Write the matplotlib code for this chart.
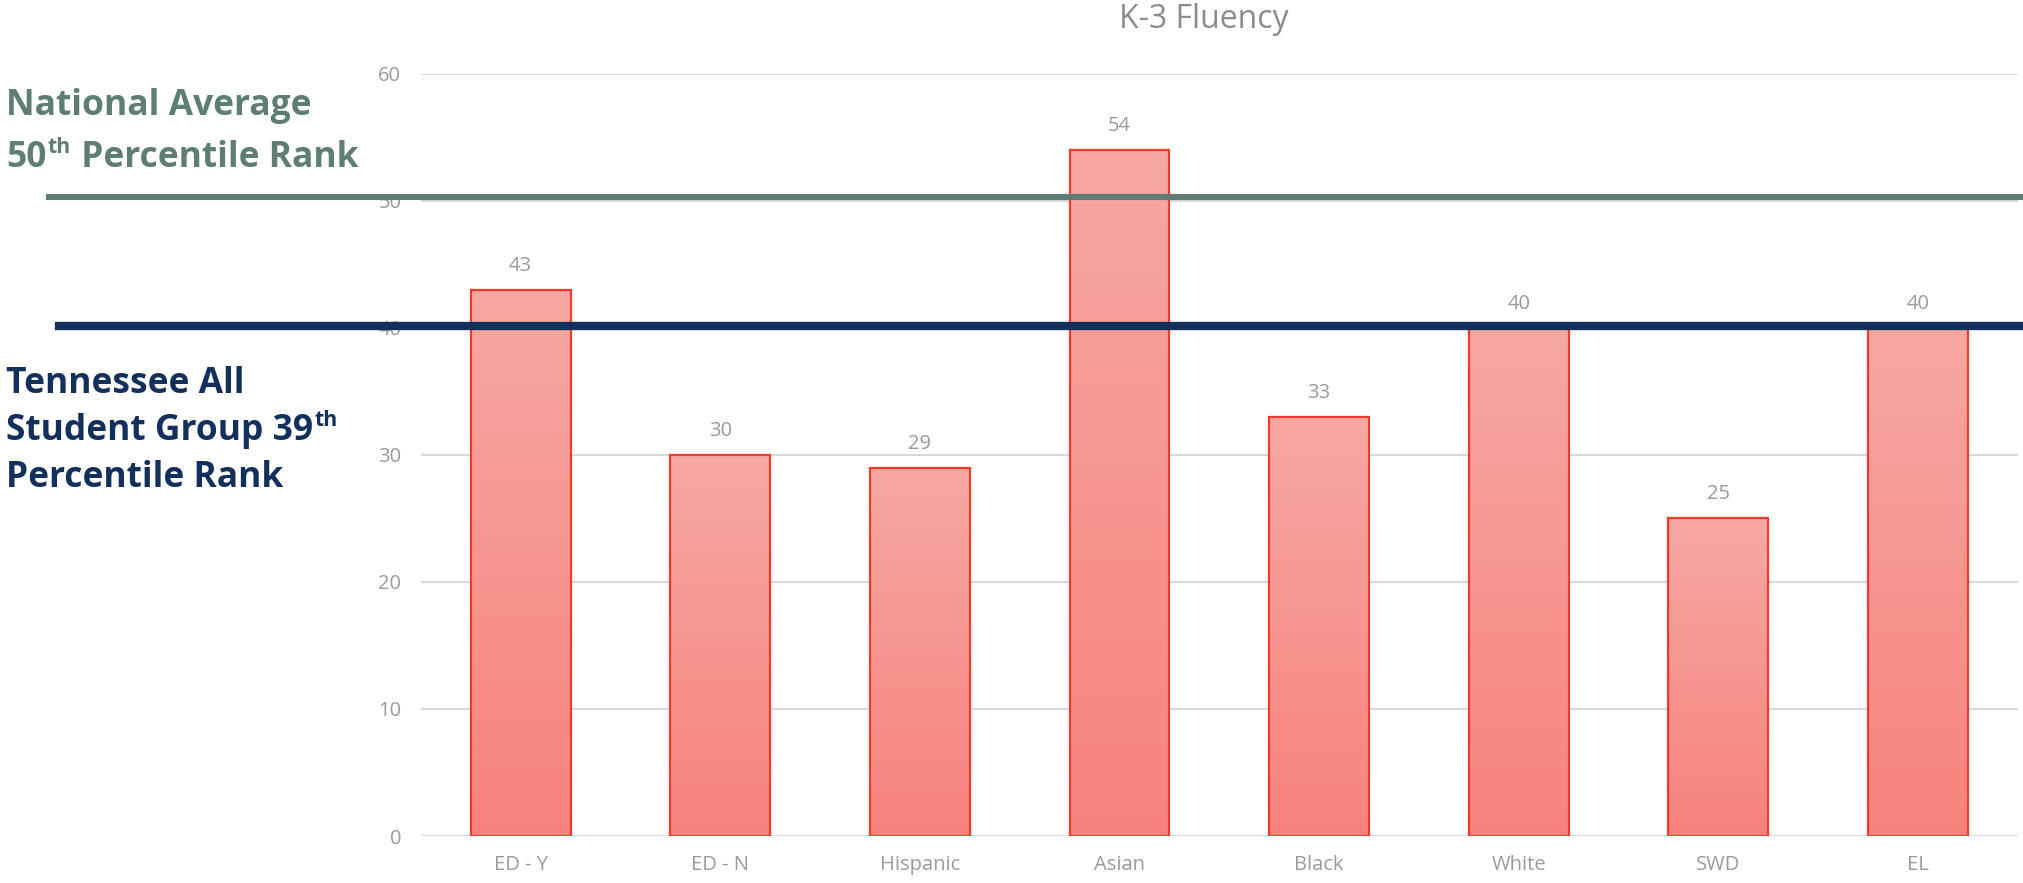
import numpy as np
import matplotlib
matplotlib.use("Agg")
import matplotlib.pyplot as plt
from matplotlib.colors import LinearSegmentedColormap

# === data ===
categories = ["ED - Y", "ED - N", "Hispanic", "Asian", "Black", "White", "SWD", "EL"]
scores = [43, 30, 29, 54, 33, 40, 25, 40]
national_avg = 50.3
tennessee_avg = 40.1
title = "K-3 Fluency"

plt.rcParams['font.family'] = ['Open Sans', 'DejaVu Sans']

W, H = 2024, 883
fig = plt.figure(figsize=(W / 100, H / 100), dpi=100)
ax = fig.add_axes([0.2079, 0.0532, 0.789, 0.8634])

x = np.arange(len(categories))
bars = ax.bar(x, scores, width=0.5, color="none", edgecolor="#EE3B2F", linewidth=1.6, zorder=3)

# gradient fill for each bar
cmap = LinearSegmentedColormap.from_list("bar", ["#F8827D", "#F6A8A3"])
grad = np.linspace(0, 1, 256).reshape(-1, 1)
for b in bars:
    x0, y0 = b.get_x(), b.get_y()
    w, h = b.get_width(), b.get_height()
    im = ax.imshow(grad, cmap=cmap, origin="lower", aspect="auto",
                   extent=[x0, x0 + w, y0, y0 + h], zorder=2)
    im.set_clip_path(b)

ax.set_xlim(-0.5, len(categories) - 0.5)
ax.set_ylim(0, 60)
ax.set_yticks(range(0, 61, 10))
ax.set_xticks(x)
ax.set_xticklabels(categories)
ax.grid(axis="y", color="#D9D9D9", linewidth=1.5, zorder=0)
ax.set_axisbelow(True)
for s in ax.spines.values():
    s.set_visible(False)
ax.tick_params(length=0, labelsize=14.5, colors="#9A9A9A")
ax.tick_params(axis="y", pad=14)
ax.tick_params(axis="x", pad=14)

ax.bar_label(bars, labels=[str(v) for v in scores], padding=10, fontsize=14.5, color="#9A9A9A")

ax.text(0.4904, 1.0716, title, transform=ax.transAxes, ha="center", va="center",
        fontsize=23, color="#8C8C8C")

# reference lines, running past the plot area
ax.axhline(national_avg, xmin=-0.2327, xmax=1.0014, color="#5E7D74", linewidth=4.4,
           clip_on=False, zorder=4)
ax.axhline(tennessee_avg, xmin=-0.2265, xmax=1.05, color="#13305C", linewidth=6,
           clip_on=False, zorder=4)

# left-hand labels (superscripts placed after measuring the text)
green = "#5E7D74"
navy = "#13305C"
fs = 25.5
renderer = fig.canvas.get_renderer()


def put(x_px, y_px, s, color, size=fs):
    return fig.text(x_px / W, 1 - y_px / H, s, fontsize=size, fontweight="bold",
                    color=color, va="baseline", ha="left")


def put_sup(x_px, y_px, before, sup, after, color):
    t1 = put(x_px, y_px, before, color)
    x_end = t1.get_window_extent(renderer).x1
    t2 = put(x_end + 1, y_px - 14, sup, color, size=fs * 0.6)
    if after:
        x_end = t2.get_window_extent(renderer).x1
        put(x_end + 1, y_px, after, color)


put(6, 115, "National Average", green)
put_sup(6, 167, "50", "th", " Percentile Rank", green)

put(6, 393, "Tennessee All", navy)
put_sup(6, 440, "Student Group 39", "th", "", navy)
put(6, 487, "Percentile Rank", navy)

fig.savefig("out.png", dpi=100)
